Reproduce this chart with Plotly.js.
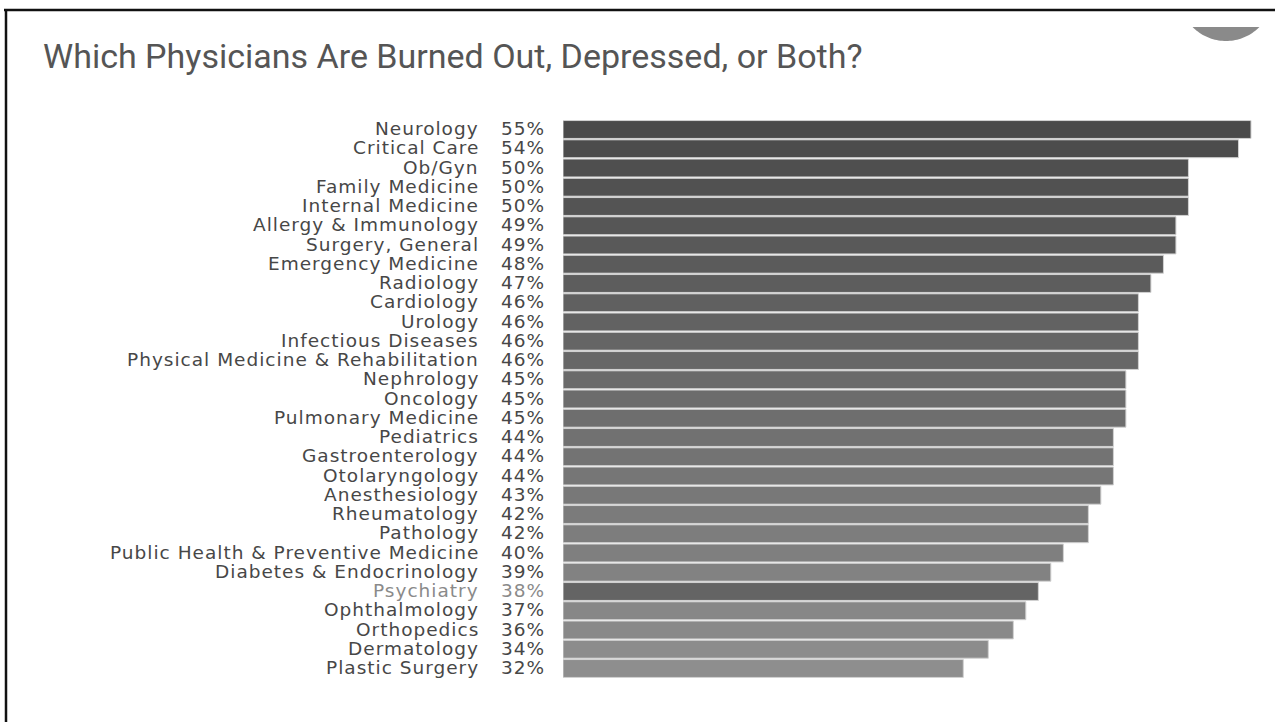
<!DOCTYPE html>
<html>
<head>
<meta charset="utf-8">
<script src="https://cdn.plot.ly/plotly-3.0.1.min.js"></script>
<style>
  html, body { margin: 0; padding: 0; background: #ffffff; }
  #chart { width: 1275px; height: 722px; }
  /* wide, airy row labels */
  text.annotation-text { letter-spacing: 1px; }
</style>
</head>
<body>
<div id="chart"></div>
<script>
// Share of physicians burned out, depressed, or both, by specialty
const specialties = [
  "Neurology", "Critical Care", "Ob/Gyn", "Family Medicine", "Internal Medicine",
  "Allergy & Immunology", "Surgery, General", "Emergency Medicine", "Radiology",
  "Cardiology", "Urology", "Infectious Diseases", "Physical Medicine & Rehabilitation",
  "Nephrology", "Oncology", "Pulmonary Medicine", "Pediatrics", "Gastroenterology",
  "Otolaryngology", "Anesthesiology", "Rheumatology", "Pathology",
  "Public Health & Preventive Medicine", "Diabetes & Endocrinology", "Psychiatry",
  "Ophthalmology", "Orthopedics", "Dermatology", "Plastic Surgery"
];
const percentValues = [
  55, 54, 50, 50, 50, 49, 49, 48, 47, 46, 46, 46, 46, 45, 45, 45, 44, 44, 44,
  43, 42, 42, 40, 39, 38, 37, 36, 34, 32
];
const highlighted = "Psychiatry";

// Page geometry (pixels)
const W = 1275, H = 722;
const M = { l: 563, r: 10, t: 118, b: 40 };
const plotW = W - M.l - M.r, plotH = H - M.t - M.b;
const pxPerPct = 688 / 55;
const xMax = plotW / pxPerPct;

// pixel -> paper coordinate helpers
const fx = px => (px - M.l) / plotW;
const fy = py => (H - M.b - py) / plotH;

// Gray ramp from the top bar to the bottom bar, highlighted row darker
const n = specialties.length;
const barColors = specialties.map((s, i) => {
  if (s === highlighted) return "#646464";
  const g = Math.round(74 + (142 - 74) * i / (n - 1));
  return `rgb(${g},${g},${g})`;
});
const textColors = specialties.map(s => s === highlighted ? "#8a8a8a" : "#474747");

const labelFont = { family: "DejaVu Sans", size: 18.5 };

const trace = {
  type: "bar",
  orientation: "h",
  y: specialties,
  x: percentValues,
  marker: { color: barColors, line: { color: "#d2d2d2", width: 1 } },
  hoverinfo: "skip"
};

const annotations = [];
specialties.forEach((s, i) => {
  annotations.push({
    xref: "paper", yref: "y", x: fx(481), y: s, xanchor: "right", yanchor: "middle",
    yshift: 1,
    text: s, showarrow: false, font: Object.assign({ color: textColors[i] }, labelFont)
  });
  annotations.push({
    xref: "paper", yref: "y", x: fx(547), y: s, xanchor: "right", yanchor: "middle",
    yshift: 1,
    text: percentValues[i] + "%", showarrow: false,
    font: Object.assign({ color: textColors[i] }, labelFont)
  });
});

// Half-disc ornament in the top-right corner
const cx = 1226, cy = -6, r = 47, chordY = 27;
const half = Math.sqrt(r * r - (chordY - cy) * (chordY - cy));
const a0 = Math.atan2(chordY - cy, -half), a1 = Math.atan2(chordY - cy, half);
let arcPath = "";
const steps = 40;
for (let k = 0; k <= steps; k++) {
  const a = a0 + (a1 - a0) * k / steps;
  const px = cx + r * Math.cos(a), py = cy + r * Math.sin(a);
  arcPath += (k === 0 ? "M" : "L") + fx(px).toFixed(5) + "," + fy(py).toFixed(5);
}
arcPath += "Z";

const shapes = [
  // frame: top rule and left rule
  { type: "line", xref: "paper", yref: "paper", x0: fx(4), x1: fx(W + 2), y0: fy(10), y1: fy(10),
    line: { color: "#111111", width: 2.5 } },
  { type: "line", xref: "paper", yref: "paper", x0: fx(6), x1: fx(6), y0: fy(9), y1: fy(H + 2),
    line: { color: "#111111", width: 2.5 } },
  { type: "path", xref: "paper", yref: "paper", path: arcPath,
    fillcolor: "#8a8a8a", line: { width: 0 } }
];

const layout = {
  width: W, height: H,
  margin: M,
  paper_bgcolor: "#ffffff",
  plot_bgcolor: "#ffffff",
  showlegend: false,
  bargap: 0.07,
  title: {
    text: "Which Physicians Are Burned Out, Depressed, or Both?",
    font: { family: "Roboto", size: 34, color: "#555555" },
    xref: "container", yref: "container",
    x: 43 / W, xanchor: "left",
    y: 1 - 56 / H, yanchor: "middle"
  },
  xaxis: {
    range: [0, xMax], visible: false, fixedrange: true
  },
  yaxis: {
    type: "category",
    categoryorder: "array", categoryarray: specialties,
    autorange: "reversed",
    showticklabels: false, showgrid: false, zeroline: false, showline: false,
    fixedrange: true
  },
  annotations: annotations,
  shapes: shapes
};

Plotly.newPlot("chart", [trace], layout, { displayModeBar: false, staticPlot: true });
</script>
</body>
</html>
